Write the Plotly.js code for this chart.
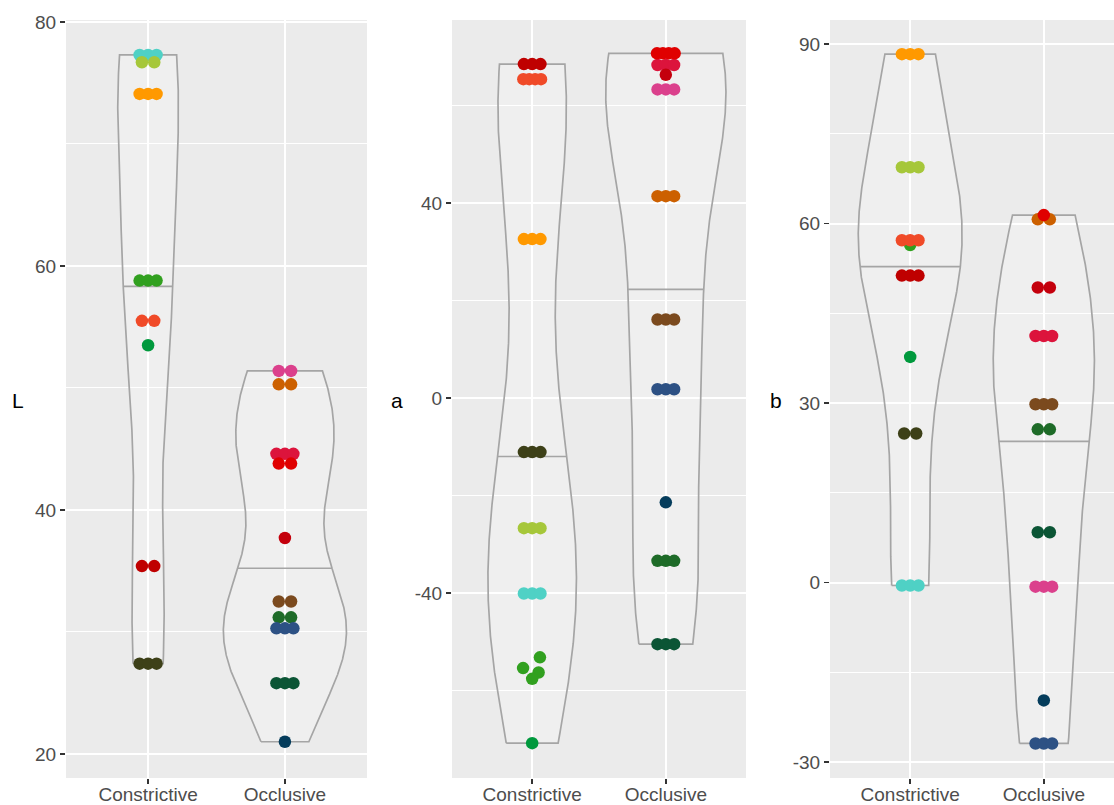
<!DOCTYPE html>
<html><head><meta charset="utf-8">
<script src="https://cdn.plot.ly/plotly-3.0.1.min.js"></script>
<style>html,body{margin:0;padding:0;overflow:hidden;background:#fff}#chart{width:1130px;height:805px}</style>
</head><body><div id="chart"></div>
<script>
// ---------- data ----------
const groups = ["Constrictive", "Occlusive"];
const panelLabels = ["L", "a", "b"];

// Constrictive samples: turquoise, yellowgreen, orange, green, orangered, darkgreen, darkred, olive
const L_constrictive = [[77.3,77.3,77.3],[76.7,76.7],[74.1,74.1,74.1],[58.8,58.8,58.8],[55.5,55.5],[53.5],[35.4,35.4],[27.4,27.4,27.4]];
// Occlusive samples: pink, darkorange, crimson, red, darkred, brown, green, navy, darkgreen, darknavy
const L_occlusive = [[51.4,51.4],[50.3,50.3],[44.6,44.6,44.6],[43.8,43.8],[37.7],[32.5,32.5],[31.2,31.2],[30.3,30.3,30.3],[25.8,25.8,25.8],[21.0]];

const a_constrictive = [[-40.1,-40.1,-40.1],[-26.7,-26.7,-26.7],[32.6,32.6,32.6],[-55.4,-53.2,-56.3,-57.6],[65.4,65.4,65.4,65.4],[-70.8],[68.5,68.5,68.5],[-11.1,-11.1,-11.1]];
const a_occlusive = [[63.3,63.3,63.3],[41.4,41.4,41.4],[68.3,68.3,68.3],[70.7,70.7,70.7,70.7],[66.3],[16.1,16.1,16.1],[-33.4,-33.4,-33.4],[1.8,1.8,1.8],[-50.5,-50.5,-50.5],[-21.4]];

const b_constrictive = [[-0.5,-0.5,-0.5],[69.4,69.4,69.4],[88.3,88.3,88.3],[56.4],[57.2,57.2,57.2],[37.7],[51.3,51.3,51.3],[24.9,24.9]];
const b_occlusive = [[-0.7,-0.7,-0.7],[60.7,60.7],[41.2,41.2,41.2],[61.4],[49.3,49.3],[29.8,29.8,29.8],[25.6,25.6],[-26.9,-26.9,-26.9],[8.4,8.4],[-19.7]];

const L_ticks = [20, 40, 60, 80];
const a_ticks = [-40, 0, 40];
const b_ticks = [-30, 0, 30, 60, 90];

// ---------- styles ----------
const constrictiveColors = ["#4FD1C5","#A6C73A","#FF9900","#31A01F","#F04A28","#00993D","#BF0000","#3D4018"];
const occlusiveColors = ["#DB408C","#CC6000","#DC143C","#E00000","#C4000C","#7B4A1E","#1E6B28","#2D5184","#0B5535","#053D5C"];
const jitterPatterns = {1:[0], 2:[-0.045,0.045], 3:[-0.062,0,0.062], 4:[-0.068,0.058,0.048,0.0]};
const clusterPattern4 = [-0.066,-0.022,0.022,0.066];

const W = 1130, H = 805;
const panels = [
  {label:"L", data:[L_constrictive, L_occlusive], ticks:L_ticks, range:[18.03, 80.16], xdom:[66,367], labelX:18},
  {label:"a", data:[a_constrictive, a_occlusive], ticks:a_ticks, range:[-77.95, 77.54], xdom:[452,746], labelX:397},
  {label:"b", data:[b_constrictive, b_occlusive], ticks:b_ticks, range:[-32.67, 94.01], xdom:[830,1124], labelX:776}
];
const groupColors = [constrictiveColors, occlusiveColors];

// ---------- density (ggplot-like, scale = "count", trimmed) ----------
function quantile7(s, p){ const n=s.length; const h=(n-1)*p; const lo=Math.floor(h); const hi=Math.min(lo+1,n-1); return s[lo]+(h-lo)*(s[hi]-s[lo]); }
function bwNrd0(x){
  const n=x.length; const m=x.reduce((a,b)=>a+b,0)/n;
  const sd=Math.sqrt(x.reduce((a,b)=>a+(b-m)*(b-m),0)/(n-1));
  const s=[...x].sort((a,b)=>a-b);
  const iqr=quantile7(s,0.75)-quantile7(s,0.25);
  let lo=Math.min(sd, iqr/1.34);
  if(!lo) lo = sd || Math.abs(x[0]) || 1;
  return 0.9*lo*Math.pow(n,-0.2);
}
function kde(x){
  const bw=bwNrd0(x); const mn=Math.min(...x), mx=Math.max(...x); const N=512;
  const ys=[], d=[];
  for(let i=0;i<N;i++){
    const g=mn+(mx-mn)*i/(N-1); let s=0;
    for(const v of x){ const z=(g-v)/bw; s+=Math.exp(-0.5*z*z); }
    ys.push(g); d.push(s/(x.length*bw*Math.sqrt(2*Math.PI)));
  }
  return {ys, d, n:x.length};
}
function interp(xa, ya, x0){
  for(let i=1;i<xa.length;i++){
    if(xa[i]>=x0){ const t=(x0-xa[i-1])/((xa[i]-xa[i-1])||1); return ya[i-1]+t*(ya[i]-ya[i-1]); }
  }
  return ya[ya.length-1];
}

const traces=[]; const layout={
  width:W, height:H, margin:{l:0,r:0,t:0,b:0}, showlegend:false,
  paper_bgcolor:"#FFFFFF", plot_bgcolor:"#EBEBEB", annotations:[]
};
const tickFont={family:"Liberation Sans, Arial, sans-serif", size:19, color:"#4D4D4D"};
const violinLine={color:"#A5A5A5", width:1.7};

panels.forEach((p, pi)=>{
  const sfx = pi===0 ? "" : String(pi+1);
  const xa="x"+sfx, ya="y"+sfx;
  const dens = p.data.map(g=>kde(g.flat()));
  const dmax = Math.max(...dens.map(k=>Math.max(...k.d)));
  const nmax = Math.max(...dens.map(k=>k.n));
  dens.forEach((k, gi)=>{
    const pos=gi+1;
    const vw=k.d.map(v=>v/dmax*k.n/nmax*0.45);
    const xs=[], yv=[];
    k.ys.forEach((y,i)=>{ xs.push(pos-vw[i]); yv.push(y); });
    for(let i=k.ys.length-1;i>=0;i--){ xs.push(pos+vw[i]); yv.push(k.ys[i]); }
    xs.push(xs[0]); yv.push(yv[0]);
    traces.push({type:"scatter", mode:"lines", x:xs, y:yv, xaxis:xa, yaxis:ya, fill:"toself",
      fillcolor:"rgba(255,255,255,0.22)", line:violinLine, hoverinfo:"skip"});
    // median line from density cdf (as ggplot draw_quantiles)
    const tot=k.d.reduce((a,b)=>a+b,0); let c=0; const cum=k.d.map(v=>(c+=v)/tot);
    const yq=interp(cum, k.ys, 0.5); const hw=interp(k.ys, vw, yq);
    traces.push({type:"scatter", mode:"lines", x:[pos-hw,pos+hw], y:[yq,yq], xaxis:xa, yaxis:ya,
      line:violinLine, hoverinfo:"skip"});
  });
  p.data.forEach((g, gi)=>{
    g.forEach((vals, si)=>{
      const same = vals.every(v=>v===vals[0]);
      let pat = jitterPatterns[vals.length] || vals.map(()=>0);
      if(vals.length===4 && same) pat = clusterPattern4;
      traces.push({type:"scatter", mode:"markers", x:vals.map((v,i)=>gi+1+pat[i]), y:vals,
        xaxis:xa, yaxis:ya, marker:{color:groupColors[gi][si], size:12.5, line:{width:0}}, hoverinfo:"y"});
    });
  });
  const d=p.ticks[1]-p.ticks[0];
  const minor=[p.ticks[0]-d/2].concat(p.ticks.map(t=>t+d/2));
  layout["xaxis"+sfx]={domain:[p.xdom[0]/W, p.xdom[1]/W], anchor:ya, range:[0.4,2.6],
    tickmode:"array", tickvals:[1,2], ticktext:groups, showgrid:true, gridcolor:"#FFFFFF", gridwidth:2,
    zeroline:false, showline:false, ticks:"outside", ticklen:5, tickwidth:1.6, tickcolor:"#333333",
    tickfont:tickFont, ticklabelstandoff:-6, fixedrange:true};
  layout["yaxis"+sfx]={domain:[27/H, 785/H], anchor:xa, range:p.range,
    tickmode:"array", tickvals:p.ticks, ticktext:p.ticks.map(t=>String(t)),
    showgrid:true, gridcolor:"#FFFFFF", gridwidth:2,
    minor:{tickmode:"array", tickvals:minor, showgrid:true, gridcolor:"#FFFFFF", gridwidth:1},
    zeroline:false, showline:false, ticks:"outside", ticklen:5, tickwidth:1.6, tickcolor:"#333333",
    tickfont:tickFont, fixedrange:true};
  layout.annotations.push({text:p.label, xref:"paper", yref:"paper", x:p.labelX/W, y:(H-401)/H,
    xanchor:"center", yanchor:"middle", showarrow:false,
    font:{family:"Liberation Sans, Arial, sans-serif", size:21, color:"#000000"}});
});

Plotly.newPlot("chart", traces, layout, {displayModeBar:false, staticPlot:true});
</script></body></html>
